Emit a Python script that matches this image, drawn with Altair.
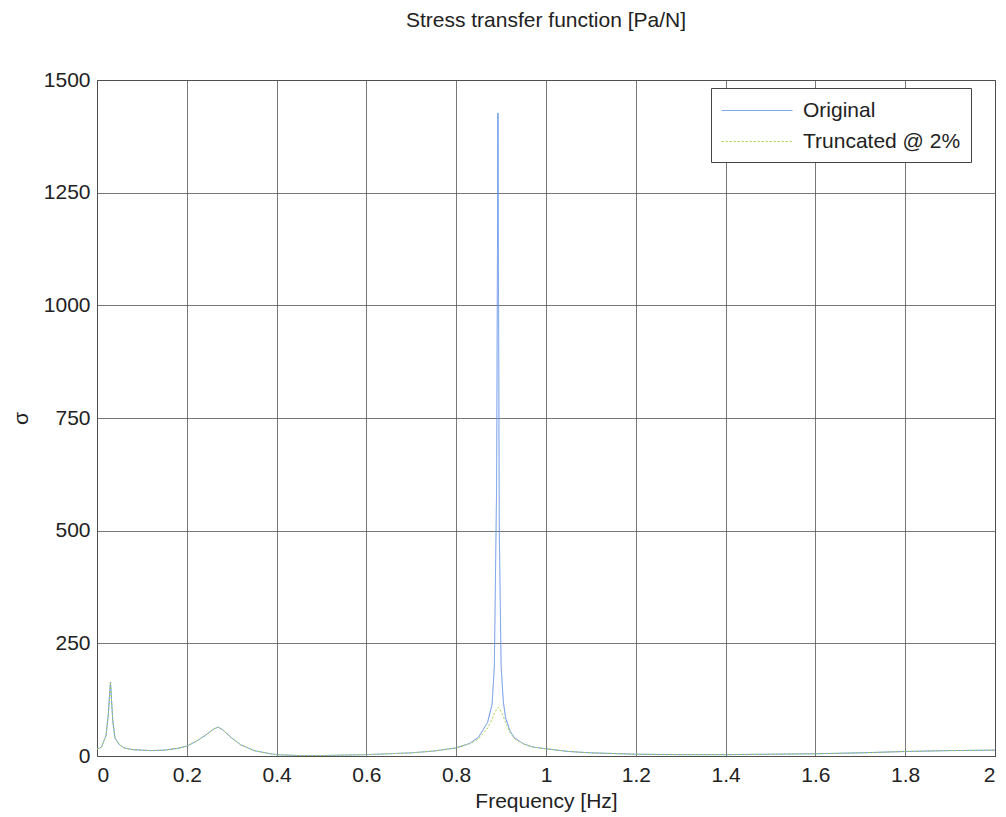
import altair as alt
import pandas as pd

freq = [0.0, 0.01, 0.02, 0.025, 0.03, 0.035, 0.04, 0.05, 0.06, 0.08, 0.1, 0.12, 0.15, 0.18,
        0.2, 0.22, 0.24, 0.26, 0.27, 0.28, 0.3, 0.32, 0.35, 0.38, 0.4, 0.45, 0.5, 0.55, 0.6,
        0.65, 0.7, 0.75, 0.8, 0.83, 0.85, 0.87, 0.88, 0.885, 0.89, 0.893, 0.896, 0.9, 0.905,
        0.91, 0.92, 0.93, 0.95, 0.97, 1.0, 1.05, 1.1, 1.2, 1.3, 1.4, 1.5, 1.6, 1.7, 1.8, 1.9, 2.0]
original = [15, 20, 45, 90, 164, 80, 40, 25, 18, 14, 13, 12, 13, 17,
            22, 32, 45, 60, 64, 58, 40, 25, 12, 6, 3, 1, 1, 2, 3,
            5, 7, 11, 18, 28, 42, 75, 115, 200, 600, 1427, 500, 200, 120,
            85, 55, 40, 27, 20, 16, 10, 7, 4, 3, 3, 4, 5, 7, 10, 12, 13]
truncated = [15, 20, 45, 90, 164, 80, 40, 25, 18, 14, 13, 12, 13, 17,
             22, 32, 45, 60, 64, 58, 40, 25, 12, 6, 3, 1, 1, 2, 3,
             5, 7, 11, 18, 27, 38, 62, 82, 95, 104, 108, 106, 98, 88,
             74, 52, 38, 27, 20, 16, 10, 7, 4, 3, 3, 4, 5, 7, 10, 12, 13]
series = ["Original", "Truncated @ 2%"]
x_ticks = [0, 0.2, 0.4, 0.6, 0.8, 1, 1.2, 1.4, 1.6, 1.8, 2]
y_ticks = [0, 250, 500, 750, 1000, 1250, 1500]

rows = []
for f, o, t in zip(freq, original, truncated):
    rows.append({"f": f, "v": o, "s": series[0]})
    rows.append({"f": f, "v": t, "s": series[1]})
df = pd.DataFrame(rows)

FONT = "Liberation Sans"
FS = 21

chart = alt.Chart(df).mark_line(strokeWidth=1, clip=True).encode(
    x=alt.X("f:Q", scale=alt.Scale(domain=[0, 2], nice=False),
            axis=alt.Axis(values=x_ticks, title="Frequency [Hz]", format="~g")),
    y=alt.Y("v:Q", scale=alt.Scale(domain=[0, 1500], nice=False),
            axis=alt.Axis(values=y_ticks, title="σ", format="d")),
    color=alt.Color("s:N", scale=alt.Scale(domain=series, range=["#5f8fe8", "#a6cf4a"]),
                    legend=alt.Legend(title=None)),
    strokeDash=alt.StrokeDash("s:N", scale=alt.Scale(domain=series, range=[[1, 0], [2, 2]]),
                              legend=alt.Legend(title=None)),
    order=alt.Order("f:Q"),
).properties(
    width=898, height=676,
    title=alt.TitleParams("Stress transfer function [Pa/N]", fontSize=FS, font=FONT,
                          fontWeight="normal", color="#222", offset=38),
    autosize=alt.AutoSizeParams(type="none"),
    padding={"left": 97, "top": 80, "right": 11, "bottom": 61},
).configure_view(
    stroke="#333", strokeWidth=1
).configure_axis(
    labelFont=FONT, labelFontSize=FS, labelColor="#222",
    titleFont=FONT, titleFontSize=FS, titleFontWeight="normal", titleColor="#222",
    grid=True, gridColor="#555", gridWidth=0.8, domain=False, ticks=False,
).configure_axisX(
    labelPadding=8, titlePadding=5
).configure_axisY(
    labelPadding=7, titlePadding=12
).configure_legend(
    orient="none", legendX=614, legendY=8,
    symbolType="M-1,0H5", symbolSize=555, symbolStrokeWidth=1,
    labelFont=FONT, labelFontSize=FS, labelColor="#222",
    strokeColor="#444", fillColor="white", padding=10, rowPadding=8,
    labelOffset=57,
)

chart.save("out.html", embed_options={"renderer": "svg", "actions": False})
